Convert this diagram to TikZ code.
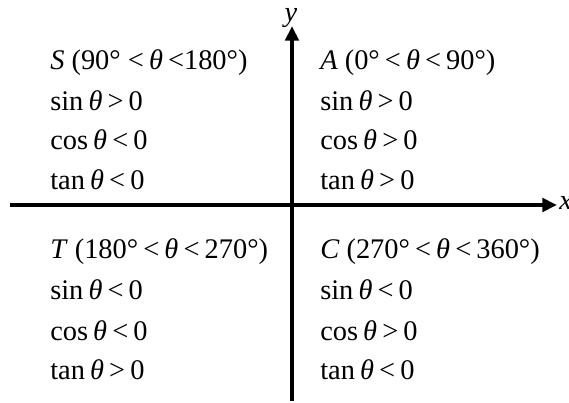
\documentclass[tikz,border=0pt]{standalone}
\usepackage{fontspec}
\setmainfont{Liberation Serif}
\usetikzlibrary{arrows.meta,positioning}
\newcommand{\thet}{\textit{θ}}
\newcommand{\tg}{\hspace{0.18em}}
\tikzset{
  qtxt/.style={anchor=base west,inner sep=0pt,font=\fontsize{21.3}{24}\selectfont},
  axlbl/.style={inner sep=0pt,font=\fontsize{21.3}{24}\selectfont\itshape},
  axis/.style={line width=3.2pt,-{Triangle[length=11pt,width=10pt]}}
}

\begin{document}
\begin{tikzpicture}[x=0.75pt,y=-0.75pt]
  \useasboundingbox (0,0) rectangle (569,403);
  % axes
  \coordinate (xl) at (10,205);
  \coordinate (xr) at (557,205);
  \coordinate (yb) at (292,401);
  \coordinate (yt) at (292,26);
  \draw[axis] (xl) -- (xr);
  \draw[axis] (yb) -- (yt);
  \node[axlbl,anchor=base west] (xlab) at (559,210) {x};
  \node[axlbl,anchor=base] (ylab) at (291,22) {y};

  % quadrant II
  \node[qtxt] (shead) at (50,70) {\textit{S} (90°~<\tg\thet\tg<180°)};
  \node[qtxt] (ssin) at (50,111) {sin\tg\thet\tg>\tg0};
  \node[qtxt] (scos) at (50,150) {cos\tg\thet\tg<\tg0};
  \node[qtxt] (stan) at (50,190) {tan\tg\thet\tg<\tg0};
  % quadrant I
  \node[qtxt] (ahead) at (320,70) {\textit{A} (0°\tg<\tg\thet\tg<\tg90°)};
  \node[qtxt] (asin) at (320,111) {sin\tg\thet\tg>\tg0};
  \node[qtxt] (acos) at (320,150) {cos\tg\thet\tg>\tg0};
  \node[qtxt] (atan) at (320,190) {tan\tg\thet\tg>\tg0};
  % quadrant III
  \node[qtxt] (thead) at (50,259) {\textit{T} (180°\tg<\tg\thet\tg<\tg270°)};
  \node[qtxt] (tsin) at (50,300) {sin\tg\thet\tg<\tg0};
  \node[qtxt] (tcos) at (50,340) {cos\tg\thet\tg<\tg0};
  \node[qtxt] (ttan) at (50,380) {tan\tg\thet\tg>\tg0};
  % quadrant IV
  \node[qtxt] (chead) at (320,259) {\textit{C} (270°\tg<\tg\thet\tg<\tg360°)};
  \node[qtxt] (csin) at (320,300) {sin\tg\thet\tg<\tg0};
  \node[qtxt] (ccos) at (320,340) {cos\tg\thet\tg>\tg0};
  \node[qtxt] (ctan) at (320,380) {tan\tg\thet\tg<\tg0};
\end{tikzpicture}
\end{document}
